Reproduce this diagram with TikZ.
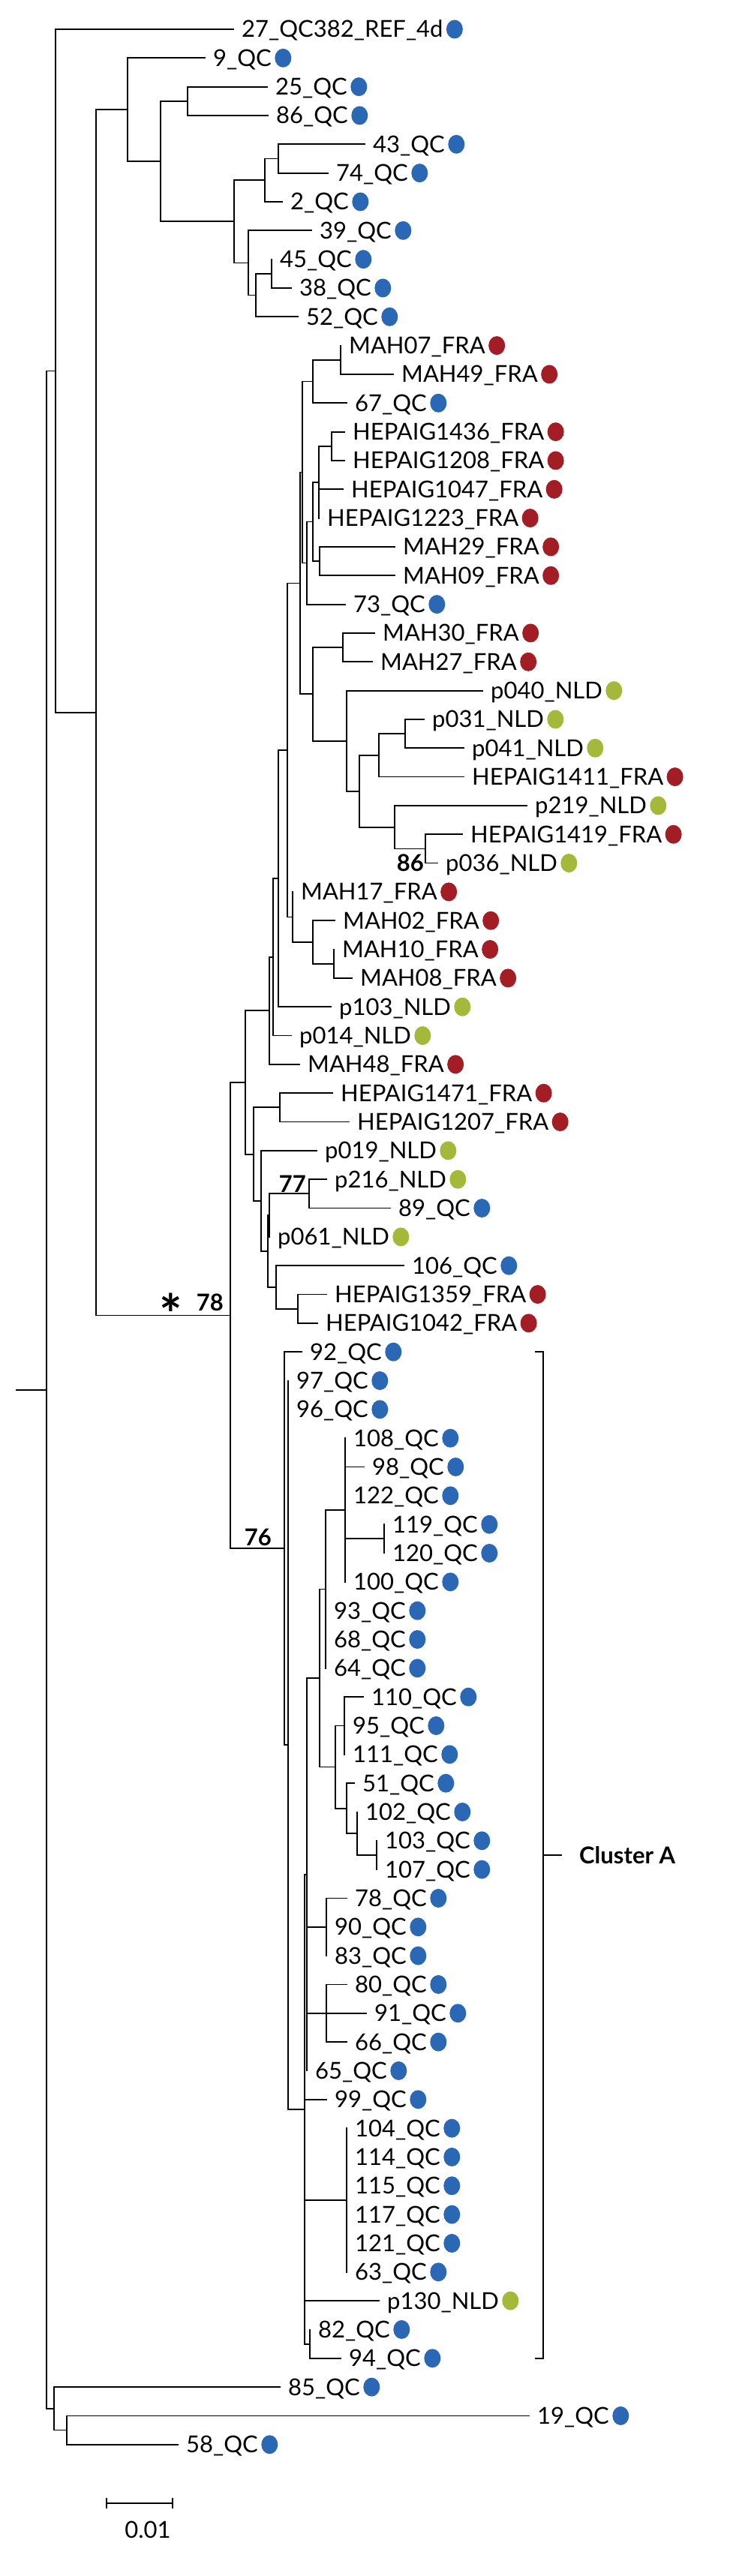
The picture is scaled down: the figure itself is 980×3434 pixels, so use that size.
\documentclass[tikz,border=0pt]{standalone}
\usepackage{fontspec}
\setmainfont{Lato}
\usetikzlibrary{calc,shapes.geometric}

\definecolor{qcblue}{RGB}{42,103,181}
\definecolor{frared}{RGB}{163,29,37}
\definecolor{nldgreen}{RGB}{164,184,58}

\tikzset{
  branch/.style={line width=1.8pt, line cap=rect},
  taxon/.style={anchor=base west, inner sep=0pt, xshift=11pt, yshift=-11pt,
    font=\fontsize{31}{31}\selectfont},
  tipdot/.style={ellipse, fill=#1, inner sep=0pt, minimum width=22pt,
    minimum height=25pt, anchor=west, xshift=4pt},
  support/.style={inner sep=0pt, font=\bfseries\fontsize{31}{31}\selectfont},
}

% leaf: name, row, tip x, text, colour
\newcommand{\leaf}[5]{%
  \coordinate (#1) at (#3,{39+38.33*#2});
  \node[taxon] (#1-name) at (#1) {#4};
  \node[tipdot=#5] (#1-dot) at (#1-name.east |- #1) {};}
% clade: name, x, first child, last child
\newcommand{\clade}[4]{%
  \coordinate (#1m) at ($(#3)!.5!(#4)$);
  \coordinate (#1) at (#2,0 |- #1m);}

\begin{document}
\begin{tikzpicture}[x=1pt, y=-1pt]
  \useasboundingbox (0,0) rectangle (980,3434);

  \leaf{q27}{0}{311}{27\_QC382\_REF\_4d}{qcblue}
  \leaf{q9}{1}{273}{9\_QC}{qcblue}
  \leaf{q25}{2}{356}{25\_QC}{qcblue}
  \leaf{q86}{3}{357}{86\_QC}{qcblue}
  \leaf{q43}{4}{486}{43\_QC}{qcblue}
  \leaf{q74}{5}{437}{74\_QC}{qcblue}
  \leaf{q2}{6}{376}{2\_QC}{qcblue}
  \leaf{q39}{7}{415}{39\_QC}{qcblue}
  \leaf{q45}{8}{362}{45\_QC}{qcblue}
  \leaf{q38}{9}{388}{38\_QC}{qcblue}
  \leaf{q52}{10}{397}{52\_QC}{qcblue}
  \leaf{mah07}{11}{454}{MAH07\_FRA}{frared}
  \leaf{mah49}{12}{524}{MAH49\_FRA}{frared}
  \leaf{q67}{13}{462}{67\_QC}{qcblue}
  \leaf{hep1436}{14}{459}{HEPAIG1436\_FRA}{frared}
  \leaf{hep1208}{15}{459}{HEPAIG1208\_FRA}{frared}
  \leaf{hep1047}{16}{457}{HEPAIG1047\_FRA}{frared}
  \leaf{hep1223}{17}{425}{HEPAIG1223\_FRA}{frared}
  \leaf{mah29}{18}{526}{MAH29\_FRA}{frared}
  \leaf{mah09}{19}{526}{MAH09\_FRA}{frared}
  \leaf{q73}{20}{460}{73\_QC}{qcblue}
  \leaf{mah30}{21}{499}{MAH30\_FRA}{frared}
  \leaf{mah27}{22}{496}{MAH27\_FRA}{frared}
  \leaf{p040}{23}{643}{p040\_NLD}{nldgreen}
  \leaf{p031}{24}{565}{p031\_NLD}{nldgreen}
  \leaf{p041}{25}{618}{p041\_NLD}{nldgreen}
  \leaf{hep1411}{26}{618}{HEPAIG1411\_FRA}{frared}
  \leaf{p219}{27}{702}{p219\_NLD}{nldgreen}
  \leaf{hep1419}{28}{616}{HEPAIG1419\_FRA}{frared}
  \leaf{p036}{29}{583}{p036\_NLD}{nldgreen}
  \leaf{mah17}{30}{390}{MAH17\_FRA}{frared}
  \leaf{mah02}{31}{446}{MAH02\_FRA}{frared}
  \leaf{mah10}{32}{445}{MAH10\_FRA}{frared}
  \leaf{mah08}{33}{469}{MAH08\_FRA}{frared}
  \leaf{p103}{34}{441}{p103\_NLD}{nldgreen}
  \leaf{p014}{35}{388}{p014\_NLD}{nldgreen}
  \leaf{mah48}{36}{399}{MAH48\_FRA}{frared}
  \leaf{hep1471}{37}{443}{HEPAIG1471\_FRA}{frared}
  \leaf{hep1207}{38}{465}{HEPAIG1207\_FRA}{frared}
  \leaf{p019}{39}{422}{p019\_NLD}{nldgreen}
  \leaf{p216}{40}{435}{p216\_NLD}{nldgreen}
  \leaf{q89}{41}{520}{89\_QC}{qcblue}
  \leaf{p061}{42}{359}{p061\_NLD}{nldgreen}
  \leaf{q106}{43}{538}{106\_QC}{qcblue}
  \leaf{hep1359}{44}{435}{HEPAIG1359\_FRA}{frared}
  \leaf{hep1042}{45}{423}{HEPAIG1042\_FRA}{frared}
  \leaf{q92}{46}{402}{92\_QC}{qcblue}
  \leaf{q97}{47}{384}{97\_QC}{qcblue}
  \leaf{q96}{48}{384}{96\_QC}{qcblue}
  \leaf{q108}{49}{460}{108\_QC}{qcblue}
  \leaf{q98}{50}{485}{98\_QC}{qcblue}
  \leaf{q122}{51}{460}{122\_QC}{qcblue}
  \leaf{q119}{52}{512}{119\_QC}{qcblue}
  \leaf{q120}{53}{512}{120\_QC}{qcblue}
  \leaf{q100}{54}{460}{100\_QC}{qcblue}
  \leaf{q93}{55}{434}{93\_QC}{qcblue}
  \leaf{q68}{56}{434}{68\_QC}{qcblue}
  \leaf{q64}{57}{434}{64\_QC}{qcblue}
  \leaf{q110}{58}{484}{110\_QC}{qcblue}
  \leaf{q95}{59}{459}{95\_QC}{qcblue}
  \leaf{q111}{60}{459}{111\_QC}{qcblue}
  \leaf{q51}{61}{472}{51\_QC}{qcblue}
  \leaf{q102}{62}{476}{102\_QC}{qcblue}
  \leaf{q103}{63}{502}{103\_QC}{qcblue}
  \leaf{q107}{64}{502}{107\_QC}{qcblue}
  \leaf{q78}{65}{462}{78\_QC}{qcblue}
  \leaf{q90}{66}{435}{90\_QC}{qcblue}
  \leaf{q83}{67}{435}{83\_QC}{qcblue}
  \leaf{q80}{68}{462}{80\_QC}{qcblue}
  \leaf{q91}{69}{488}{91\_QC}{qcblue}
  \leaf{q66}{70}{462}{66\_QC}{qcblue}
  \leaf{q65}{71}{409}{65\_QC}{qcblue}
  \leaf{q99}{72}{435}{99\_QC}{qcblue}
  \leaf{q104}{73}{462}{104\_QC}{qcblue}
  \leaf{q114}{74}{462}{114\_QC}{qcblue}
  \leaf{q115}{75}{462}{115\_QC}{qcblue}
  \leaf{q117}{76}{462}{117\_QC}{qcblue}
  \leaf{q121}{77}{462}{121\_QC}{qcblue}
  \leaf{q63}{78}{462}{63\_QC}{qcblue}
  \leaf{p130}{79}{505}{p130\_NLD}{nldgreen}
  \leaf{q82}{80}{413}{82\_QC}{qcblue}
  \leaf{q94}{81}{454}{94\_QC}{qcblue}
  \leaf{q85}{82}{373}{85\_QC}{qcblue}
  \leaf{q19}{83}{705}{19\_QC}{qcblue}
  \leaf{q58}{84}{237}{58\_QC}{qcblue}

  \clade{qc1}{362}{q45}{q38}
  \clade{qc2}{341}{qc1}{q52}
  \clade{qc3}{331}{q39}{qc2}
  \clade{qc4}{371}{q43}{q74}
  \clade{qc5}{353}{qc4}{q2}
  \clade{qc6}{312}{qc5}{qc3}
  \clade{qc7}{250}{q25}{q86}
  \clade{qc8}{214}{qc7}{qc6}
  \clade{qc9}{170}{q9}{qc8}
  \clade{m1}{454}{mah07}{mah49}
  \clade{m2}{417}{m1}{q67}
  \clade{m3}{442}{hep1436}{hep1208}
  \clade{m4}{425}{m3}{hep1223}
  \clade{m5}{426}{mah29}{mah09}
  \clade{m6}{417}{m4}{m5}
  \clade{m7}{409}{m6}{q73}
  \clade{m8}{403}{m2}{m7}
  \clade{m9}{457}{mah30}{mah27}
  \clade{nl1}{540}{p031}{p041}
  \clade{nl2}{505}{nl1}{hep1411}
  \clade{n86}{567}{hep1419}{p036}
  \clade{nl3}{526}{p219}{n86}
  \clade{nl4}{479}{nl2}{nl3}
  \clade{nl5}{462}{p040}{nl4}
  \clade{m10}{417}{m9}{nl5}
  \clade{m11}{400}{m8}{m10}
  \clade{m12}{445}{mah10}{mah08}
  \clade{m13}{417}{mah02}{m12}
  \clade{m14}{390}{mah17}{m13}
  \clade{m15}{383}{m11}{m14}
  \clade{m16}{371}{m15}{p103}
  \clade{m17}{364}{m16}{p014}
  \clade{m18}{359}{m17}{mah48}
  \clade{m19}{373}{hep1471}{hep1207}
  \clade{n77}{412}{p216}{q89}
  \clade{m20}{359}{n77}{p061}
  \clade{m21}{397}{hep1359}{hep1042}
  \clade{m22}{368}{q106}{m21}
  \clade{m23}{357}{m20}{m22}
  \clade{m24}{348}{p019}{m23}
  \clade{m25}{338}{m19}{m24}
  \clade{m26}{327}{m18}{m25}
  \clade{a1}{512}{q119}{q120}
  \clade{a2}{460}{q108}{q100}
  \clade{a3}{434}{a2}{q64}
  \clade{a4}{459}{q110}{q111}
  \clade{a5}{502}{q103}{q107}
  \clade{a6}{476}{q102}{a5}
  \clade{a7}{462}{q51}{a6}
  \clade{a8}{447}{a4}{a7}
  \clade{a9}{426}{a3}{a8}
  \clade{a10}{435}{q78}{q83}
  \clade{a11}{435}{q80}{q66}
  \clade{a12}{409}{a9}{q65}
  \clade{a13}{462}{q104}{q63}
  \clade{a14}{413}{q82}{q94}
  \clade{a15}{406}{a12}{a14}
  \clade{a16}{384}{q97}{a15}
  \clade{n76}{379}{q92}{a16}
  \clade{n78}{307}{m26}{n76}
  \clade{b1}{128}{qc9}{n78}
  \clade{b2}{74}{q27}{b1}
  \clade{b3}{89}{q19}{q58}
  \clade{b4}{72}{q85}{b3}
  \clade{root}{62}{b2}{b4}
  \coordinate (stem) at (22,0 |- root);

  \draw[branch]
    (stem) -- (root)
    (root) |- (b2)  (root) |- (b4)
    (b2) |- (q27)  (b2) |- (b1)
    (b1) |- (qc9)  (b1) |- (n78)
    (qc9) |- (q9)  (qc9) |- (qc8)
    (qc8) |- (qc7)  (qc8) |- (qc6)
    (qc7) |- (q25)  (qc7) |- (q86)
    (qc6) |- (qc5)  (qc6) |- (qc3)
    (qc5) |- (qc4)  (qc5) |- (q2)
    (qc4) |- (q43)  (qc4) |- (q74)
    (qc3) |- (q39)  (qc3) |- (qc2)
    (qc2) |- (qc1)  (qc2) |- (q52)
    (qc1) |- (q45)  (qc1) |- (q38)
    (n78) |- (m26)  (n78) |- (n76)
    (m26) |- (m18)  (m26) |- (m25)
    (m18) |- (m17)  (m18) |- (mah48)
    (m17) |- (m16)  (m17) |- (p014)
    (m16) |- (m15)  (m16) |- (p103)
    (m15) |- (m11)  (m15) |- (m14)
    (m14) |- (mah17)  (m14) |- (m13)
    (m13) |- (mah02)  (m13) |- (m12)
    (m12) |- (mah10)  (m12) |- (mah08)
    (m11) |- (m8)  (m11) |- (m10)
    (m10) |- (m9)  (m10) |- (nl5)
    (m9) |- (mah30)  (m9) |- (mah27)
    (nl5) |- (p040)  (nl5) |- (nl4)
    (nl4) |- (nl2)  (nl4) |- (nl3)
    (nl3) |- (p219)  (nl3) |- (n86)
    (n86) |- (hep1419)  (n86) |- (p036)
    (nl2) |- (nl1)  (nl2) |- (hep1411)
    (nl1) |- (p031)  (nl1) |- (p041)
    (m8) |- (m2)  (m8) |- (m7)
    (m7) |- (m6)  (m7) |- (q73)
    (m6) |- (m4)  (m6) |- (m5)
    (m5) |- (mah29)  (m5) |- (mah09)
    (m4) |- (m3)  (m4) |- (hep1047)  (m4) |- (hep1223)
    (m3) |- (hep1436)  (m3) |- (hep1208)
    (m2) |- (m1)  (m2) |- (q67)
    (m1) |- (mah07)  (m1) |- (mah49)
    (m25) |- (m19)  (m25) |- (m24)
    (m19) |- (hep1471)  (m19) |- (hep1207)
    (m24) |- (p019)  (m24) |- (m23)
    (m23) |- (m20)  (m23) |- (m22)
    (m20) |- (n77)  (m20) |- (p061)
    (n77) |- (p216)  (n77) |- (q89)
    (m22) |- (q106)  (m22) |- (m21)
    (m21) |- (hep1359)  (m21) |- (hep1042)
    (n76) |- (q92)  (n76) |- (a16)
    (a16) |- (q97)  (a16) |- (q96)  (a16) |- (a15)
    (a15) |- (a12)  (a15) |- (q99)  (a15) |- (a13)  (a15) |- (p130)  (a15) |- (a14)
    (a12) |- (a9)  (a12) |- (a10)  (a12) |- (a11)  (a12) |- (q65)
    (a9) |- (a3)  (a9) |- (a8)
    (a3) |- (a2)  (a3) |- (q93)  (a3) |- (q68)  (a3) |- (q64)
    (a2) |- (q108)  (a2) |- (q98)  (a2) |- (q122)  (a2) |- (a1)  (a2) |- (q100)
    (a1) |- (q119)  (a1) |- (q120)
    (a8) |- (a4)  (a8) |- (a7)
    (a4) |- (q110)  (a4) |- (q95)  (a4) |- (q111)
    (a7) |- (q51)  (a7) |- (a6)
    (a6) |- (q102)  (a6) |- (a5)
    (a5) |- (q103)  (a5) |- (q107)
    (a10) |- (q78)  (a10) |- (q90)  (a10) |- (q83)
    (a11) |- (q80)  (a11) |- (q91)  (a11) |- (q66)
    (a13) |- (q104)  (a13) |- (q114)  (a13) |- (q115)
    (a13) |- (q117)  (a13) |- (q121)  (a13) |- (q63)
    (a14) |- (q82)  (a14) |- (q94)
    (b4) |- (q85)  (b4) |- (b3)
    (b3) |- (q19)  (b3) |- (q58)
  ;

  \node[support, anchor=center] (star78) at ([xshift=-79pt,yshift=15pt]n78)
    {\fontsize{72}{72}\selectfont\raisebox{-.56em}[0pt][0pt]{*}};
  \node[support, anchor=base east] (bs78) at ([xshift=-9pt,yshift=6pt]n78) {78};
  \node[support, anchor=base east] (bs76) at ([xshift=-17pt,yshift=4pt]n76) {76};
  \node[support, anchor=base east] (bs77) at ([xshift=-4pt,yshift=2pt]n77) {77};
  \node[support, anchor=east, xshift=-2pt] (bs86) at (n86 |- p036) {86};

  \coordinate (clA-top) at (713,0 |- q92);
  \coordinate (clA-bot) at (713,0 |- q94);
  \coordinate (clA-spine) at (724,0 |- q92);
  \node[support, anchor=west] (clA) at (772,2473) {Cluster A};
  \draw[branch, line cap=butt]
    (clA-top) -- (clA-spine) -- (clA-spine |- clA-bot) -- (clA-bot)
    (clA-spine |- clA) -- ++(25,0);

  \coordinate (sb-left) at (142,3337);
  \coordinate (sb-right) at (230,3337);
  \draw[line width=1.5pt]
    (sb-left) -- (sb-right)
    ([yshift=7pt]sb-left) -- ([yshift=-7pt]sb-left)
    ([yshift=7pt]sb-right) -- ([yshift=-7pt]sb-right);
  \node[taxon, xshift=0pt, yshift=0pt, anchor=north] (sb-label)
    at ([yshift=-13pt]$(sb-left)!.5!(sb-right)$) {0.01};
\end{tikzpicture}
\end{document}
